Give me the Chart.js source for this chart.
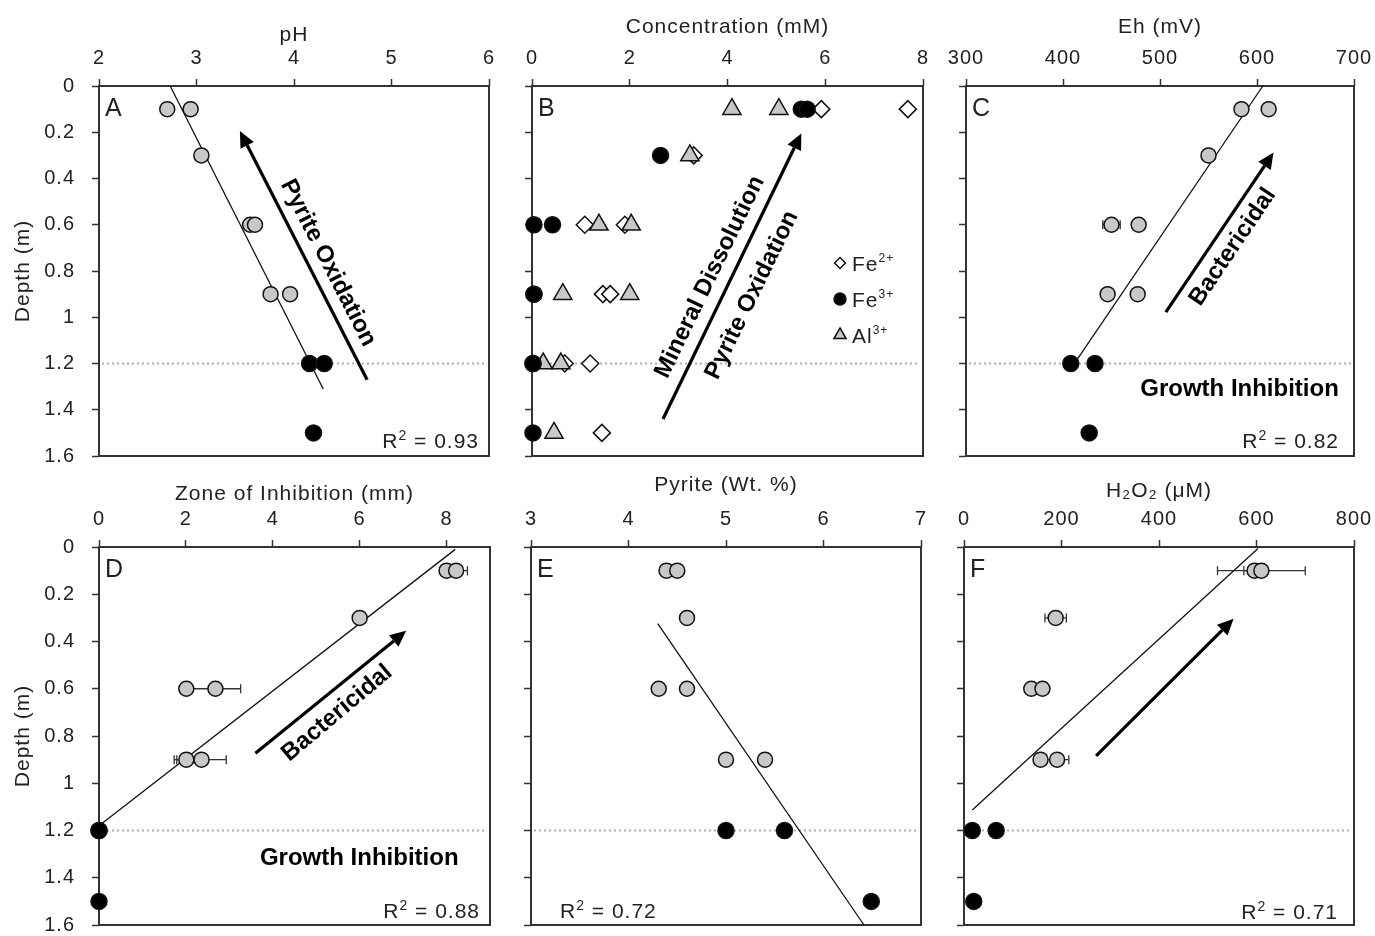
<!DOCTYPE html>
<html>
<head>
  <title>Depth profiles</title>
  <style>
    html, body { margin: 0; padding: 0; background: #fff; overflow: hidden; }
    #figure { position: relative; width: 1375px; height: 936px; overflow: hidden; }
    #figure canvas { position: absolute; }
  </style>
</head>
<body>
  <div id="figure"></div>

  <script src="https://cdn.jsdelivr.net/npm/chart.js"></script>
  <script>
    // sample depths (m); first seven sit above the 1.2 m boundary, last three at/below it
    const depths = [0.1, 0.1, 0.3, 0.6, 0.6, 0.9, 0.9, 1.2, 1.2, 1.5];
    const boundaryDepth = 1.2;

    // A - pH
    const phValues = [2.70, 2.94, 3.05, 3.55, 3.60, 3.76, 3.96, 4.16, 4.31, 4.20];
    const phFitX = [2.73, 4.30];
    const phFitY = [0, 1.31];

    // B - dissolved ions (mM)
    const fe2Values = [5.92, 7.69, 3.31, 1.08, 1.90, 1.45, 1.60, 0.67, 1.19, 1.43];
    const fe3Values = [5.51, 5.63, 2.63, 0.04, 0.42, 0.04, 0.04, 0.02, 0.02, 0.02];
    const al3Values = [4.09, 5.05, 3.23, 1.37, 2.03, 0.63, 2.00, 0.23, 0.59, 0.45];
    const ionNames = ['Fe', 'Fe', 'Al'];
    const ionCharges = ['2+', '3+', '3+'];

    // C - Eh (mV)
    const ehValues = [584, 612, 550, 450, 478, 446, 477, 408, 433, 427];
    const ehErr = [0, 0, 0, 9, 0, 0, 0, 0, 0, 0];
    const ehFitX = [606, 415];
    const ehFitY = [0, 1.18];

    // D - zone of inhibition (mm)
    const zoneValues = [8.0, 8.22, 6.0, 2.01, 2.68, 2.01, 2.36, 0, 0, 0];
    const zoneErr = [0, 0.26, 0, 0, 0.58, 0.28, 0.57, 0, 0, 0];
    const zoneFitX = [8.2, 0];
    const zoneFitY = [0.01, 1.18];

    // E - pyrite (wt. %)
    const pyriteValues = [4.39, 4.50, 4.60, 4.31, 4.60, 5.0, 5.40, 5.0, 5.60, 6.49];
    const pyriteFitX = [4.30, 6.415];
    const pyriteFitY = [0.324, 1.6];

    // F - H2O2 (uM)
    const h2o2Values = [596, 610, 188, 138, 161, 157, 191, 17, 66, 20];
    const h2o2Err = [22, 90, 22, 0, 0, 0, 24, 0, 0, 0];
    const h2o2FitX = [603, 17];
    const h2o2FitY = [0.006, 1.113];

    const rSquared = ['0.93', '0.82', '0.88', '0.72', '0.71'];

    const FONT = "'Liberation Sans', Arial, Helvetica, sans-serif";
    const INK = '#222';
    const FRAME = '#333';
    const GREY = '#c8c8c8';

    Chart.defaults.font.family = FONT;
    Chart.defaults.color = INK;

    function points(xs, ys, from, to) {
      const out = [];
      for (let i = from; i < to; i++) out.push({ x: xs[i], y: ys[i] });
      return out;
    }

    function markers(data, style, radius, fill) {
      return {
        data: data, showLine: false, clip: false,
        pointStyle: style, pointRadius: radius, pointHoverRadius: radius,
        pointBackgroundColor: fill, pointBorderColor: '#111', pointBorderWidth: 1.5
      };
    }

    function fitLine(xs, ys) {
      return {
        data: points(xs, ys, 0, xs.length), showLine: true, clip: false, fill: false,
        borderColor: '#111', borderWidth: 1.3, pointRadius: 0, pointHoverRadius: 0
      };
    }

    // grey circles above the boundary, black below, fit line drawn underneath
    function profile(values, fitX, fitY) {
      return [
        markers(points(values, depths, 0, 7), 'circle', 7.5, GREY),
        markers(points(values, depths, 7, 10), 'circle', 8, '#000'),
        fitLine(fitX, fitY)
      ];
    }

    function drawArrow(ctx, x1, y1, x2, y2) {
      const ang = Math.atan2(y2 - y1, x2 - x1);
      const head = 16, half = 7.5;
      const bx = x2 - head * Math.cos(ang), by = y2 - head * Math.sin(ang);
      ctx.strokeStyle = '#000';
      ctx.fillStyle = '#000';
      ctx.lineWidth = 3.2;
      ctx.beginPath();
      ctx.moveTo(x1, y1);
      ctx.lineTo(bx, by);
      ctx.stroke();
      ctx.beginPath();
      ctx.moveTo(x2, y2);
      ctx.lineTo(bx + half * Math.sin(ang), by - half * Math.cos(ang));
      ctx.lineTo(bx - half * Math.sin(ang), by + half * Math.cos(ang));
      ctx.closePath();
      ctx.fill();
    }

    function drawR2(ctx, a, r2) {
      const big = '21px ' + FONT, small = '14px ' + FONT;
      const rest = ' = ' + r2.text;
      ctx.font = big;
      const wR = ctx.measureText('R').width;
      const wRest = ctx.measureText(rest).width;
      ctx.font = small;
      const w2 = ctx.measureText('2').width;
      const total = wR + w2 + wRest;
      const x0 = r2.side === 'left' ? a.left + r2.inset : a.right - r2.inset - total;
      const base = a.bottom - r2.drop;
      ctx.fillStyle = INK;
      ctx.textAlign = 'left';
      ctx.textBaseline = 'alphabetic';
      ctx.font = big;
      ctx.fillText('R', x0, base);
      ctx.font = small;
      ctx.fillText('2', x0 + wR, base - 8);
      ctx.font = big;
      ctx.fillText(rest, x0 + wR + w2, base);
    }

    function drawIonLegend(ctx, a) {
      const mx = a.left + 308;
      ctx.lineWidth = 1.5;
      ctx.strokeStyle = '#111';
      for (let i = 0; i < ionNames.length; i++) {
        const my = a.top + 177 + i * 36;
        ctx.beginPath();
        if (i === 0) {
          ctx.moveTo(mx - 5.5, my); ctx.lineTo(mx, my - 5.5);
          ctx.lineTo(mx + 5.5, my); ctx.lineTo(mx, my + 5.5);
          ctx.closePath();
          ctx.fillStyle = '#fff';
        } else if (i === 1) {
          ctx.arc(mx, my, 6, 0, Math.PI * 2);
          ctx.fillStyle = '#000';
        } else {
          ctx.moveTo(mx, my - 7); ctx.lineTo(mx + 6.1, my + 3.5);
          ctx.lineTo(mx - 6.1, my + 3.5);
          ctx.closePath();
          ctx.fillStyle = GREY;
        }
        ctx.fill();
        ctx.stroke();

        ctx.fillStyle = INK;
        ctx.textAlign = 'left';
        ctx.textBaseline = 'alphabetic';
        ctx.font = '21px ' + FONT;
        ctx.fillText(ionNames[i], mx + 12, my + 8);
        const w = ctx.measureText(ionNames[i]).width;
        ctx.font = '12px ' + FONT;
        ctx.fillText(ionCharges[i], mx + 12 + w, my - 1);
      }
    }

    function decor(spec) {
      return {
        id: 'decor',
        beforeDraw(chart) {
          chart.ctx.letterSpacing = '1px';
        },
        beforeDatasetsDraw(chart) {
          const { ctx, chartArea: a, scales: { x, y } } = chart;
          ctx.save();
          // dotted boundary
          const yb = y.getPixelForValue(boundaryDepth);
          ctx.strokeStyle = '#b0b0b0';
          ctx.lineWidth = 2;
          ctx.setLineDash([2, 3]);
          ctx.beginPath();
          ctx.moveTo(a.left + 3, yb);
          ctx.lineTo(a.right - 3, yb);
          ctx.stroke();
          ctx.setLineDash([]);
          // frame
          ctx.strokeStyle = FRAME;
          ctx.lineWidth = 2;
          ctx.strokeRect(a.left, a.top, a.right - a.left, a.bottom - a.top);
          // horizontal error bars
          if (spec.errors) {
            ctx.strokeStyle = '#333';
            ctx.lineWidth = 1.3;
            spec.errors.values.forEach((v, i) => {
              const e = spec.errors.err[i];
              if (!e) return;
              const py = y.getPixelForValue(depths[i]);
              const x1 = x.getPixelForValue(v - e), x2 = x.getPixelForValue(v + e);
              ctx.beginPath();
              ctx.moveTo(x1, py); ctx.lineTo(x2, py);
              ctx.moveTo(x1, py - 4.5); ctx.lineTo(x1, py + 4.5);
              ctx.moveTo(x2, py - 4.5); ctx.lineTo(x2, py + 4.5);
              ctx.stroke();
            });
          }
          ctx.restore();
        },
        afterDatasetsDraw(chart) {
          const { ctx, chartArea: a, scales: { x, y } } = chart;
          ctx.save();
          (spec.arrows || []).forEach(ar => drawArrow(ctx,
            x.getPixelForValue(ar.from[0]), y.getPixelForValue(ar.from[1]),
            x.getPixelForValue(ar.to[0]), y.getPixelForValue(ar.to[1])));

          ctx.letterSpacing = '0px';
          ctx.fillStyle = '#000';
          ctx.font = 'bold 24px ' + FONT;
          ctx.textAlign = 'center';
          ctx.textBaseline = 'middle';
          (spec.notes || []).forEach(n => {
            ctx.save();
            ctx.translate(x.getPixelForValue(n.at[0]), y.getPixelForValue(n.at[1]));
            ctx.rotate(n.angle * Math.PI / 180);
            ctx.fillText(n.text, 0, 0);
            ctx.restore();
          });

          ctx.textAlign = 'left';
          ctx.textBaseline = 'alphabetic';
          ctx.fillStyle = INK;
          ctx.font = '25px ' + FONT;
          ctx.fillText(spec.letter, a.left + 6, a.top + 30);

          ctx.letterSpacing = '1px';
          if (spec.r2) drawR2(ctx, a, spec.r2);
          if (spec.legend) drawIonLegend(ctx, a);
          ctx.restore();
        },
        afterDraw(chart) {
          chart.ctx.letterSpacing = '0px';
        }
      };
    }

    const tickText = v => String(Math.round(v * 10) / 10);

    function makePanel(spec) {
      const [cx, cy, cw, ch] = spec.box;
      const [al, at, ar, ab] = spec.area;
      const canvas = document.createElement('canvas');
      canvas.width = cw;
      canvas.height = ch;
      canvas.style.left = cx + 'px';
      canvas.style.top = cy + 'px';
      canvas.style.width = cw + 'px';
      canvas.style.height = ch + 'px';
      document.getElementById('figure').appendChild(canvas);

      return new Chart(canvas, {
        type: 'scatter',
        data: { datasets: spec.datasets },
        options: {
          responsive: false,
          animation: false,
          events: [],
          layout: { padding: { left: 0, top: 0, right: cx + cw - ar, bottom: cy + ch - ab } },
          plugins: { legend: { display: false }, tooltip: { enabled: false } },
          scales: {
            x: {
              type: 'linear',
              position: 'top',
              min: spec.x.min,
              max: spec.x.max,
              afterFit: s => { s.height = at - cy; },
              afterBuildTicks: s => {
                if (spec.x.keep) s.ticks = s.ticks.filter(t => spec.x.keep(t.value));
              },
              ticks: {
                stepSize: spec.x.step, autoSkip: false, maxRotation: 0,
                padding: 9, color: INK, font: { size: 20 }, callback: tickText
              },
              grid: { drawOnChartArea: false, drawTicks: true, tickLength: 7, tickWidth: 1.5, tickColor: FRAME },
              border: { display: false },
              title: {
                display: true, text: spec.x.title, color: INK,
                font: { size: 21 }, padding: { top: spec.x.titlePad, bottom: 0 }
              }
            },
            y: {
              type: 'linear',
              reverse: true,
              min: 0,
              max: 1.6,
              afterFit: s => { s.width = al - cx; },
              ticks: {
                stepSize: 0.2, autoSkip: false, display: !!spec.depthLabels,
                padding: 17, color: INK, font: { size: 20 }, callback: tickText
              },
              grid: { drawOnChartArea: false, drawTicks: true, tickLength: 7, tickWidth: 1.5, tickColor: FRAME },
              border: { display: false },
              title: {
                display: !!spec.depthLabels, text: 'Depth (m)', color: INK,
                font: { size: 21 }, padding: { top: 11, bottom: 0 }
              }
            }
          }
        },
        plugins: [decor(spec)]
      });
    }

    const panels = [
      {
        letter: 'A', box: [0, 0, 505, 500], area: [99, 86, 489, 456],
        x: { min: 2, max: 6, step: 1, title: 'pH', titlePad: 23 },
        depthLabels: true,
        datasets: profile(phValues, phFitX, phFitY),
        arrows: [{ from: [4.75, 1.27], to: [3.445, 0.195] }],
        notes: [{ text: 'Pyrite Oxidation', at: [4.35, 0.765], angle: 63 }],
        r2: { text: rSquared[0], side: 'right', inset: 10, drop: 8 }
      },
      {
        letter: 'B', box: [505, 0, 440, 500], area: [532, 86, 923, 456],
        x: { min: 0, max: 8, step: 2, title: 'Concentration (mM)', titlePad: 15 },
        datasets: [
          markers(points(fe3Values, depths, 0, 10), 'circle', 8, '#000'),
          markers(points(al3Values, depths, 0, 10), 'triangle', 10.5, GREY),
          markers(points(fe2Values, depths, 0, 10), 'rectRot', 8.5, '#fff')
        ],
        arrows: [{ from: [2.68, 1.44], to: [5.51, 0.205] }],
        notes: [
          { text: 'Mineral Dissolution', at: [3.64, 0.826], angle: -64 },
          { text: 'Pyrite Oxidation', at: [4.50, 0.904], angle: -64 }
        ],
        legend: true
      },
      {
        letter: 'C', box: [930, 0, 455, 500], area: [966, 86, 1354, 456],
        x: { min: 300, max: 700, step: 100, title: 'Eh (mV)', titlePad: 15 },
        datasets: profile(ehValues, ehFitX, ehFitY),
        errors: { values: ehValues, err: ehErr },
        arrows: [{ from: [506, 0.978], to: [617, 0.288] }],
        notes: [
          { text: 'Bactericidal', at: [575, 0.696], angle: -56 },
          { text: 'Growth Inhibition', at: [582, 1.31], angle: 0 }
        ],
        r2: { text: rSquared[1], side: 'right', inset: 15, drop: 8 }
      },
      {
        letter: 'D', box: [0, 466, 505, 500], area: [99, 547, 490, 925],
        x: { min: 0, max: 9, step: 2, title: 'Zone of Inhibition (mm)', titlePad: 16, keep: v => v % 2 === 0 },
        depthLabels: true,
        datasets: profile(zoneValues, zoneFitX, zoneFitY),
        errors: { values: zoneValues, err: zoneErr },
        arrows: [{ from: [3.60, 0.873], to: [7.07, 0.355] }],
        notes: [
          { text: 'Bactericidal', at: [5.48, 0.703], angle: -40 },
          { text: 'Growth Inhibition', at: [5.99, 1.316], angle: 0 }
        ],
        r2: { text: rSquared[2], side: 'right', inset: 10, drop: 7 }
      },
      {
        letter: 'E', box: [505, 466, 440, 500], area: [531, 547, 921, 925],
        x: { min: 3, max: 7, step: 1, title: 'Pyrite (Wt. %)', titlePad: 7 },
        datasets: profile(pyriteValues, pyriteFitX, pyriteFitY),
        r2: { text: rSquared[3], side: 'left', inset: 29, drop: 7 }
      },
      {
        letter: 'F', box: [930, 466, 455, 500], area: [964, 547, 1354, 925],
        x: { min: 0, max: 800, step: 200, title: 'H\u2082O\u2082 (\u03bcM)', titlePad: 13 },
        datasets: profile(h2o2Values, h2o2FitX, h2o2FitY),
        errors: { values: h2o2Values, err: h2o2Err },
        arrows: [{ from: [271, 0.884], to: [553, 0.304] }],
        r2: { text: rSquared[4], side: 'right', inset: 16, drop: 6 }
      }
    ];

    panels.forEach(makePanel);
  </script>
</body>
</html>
